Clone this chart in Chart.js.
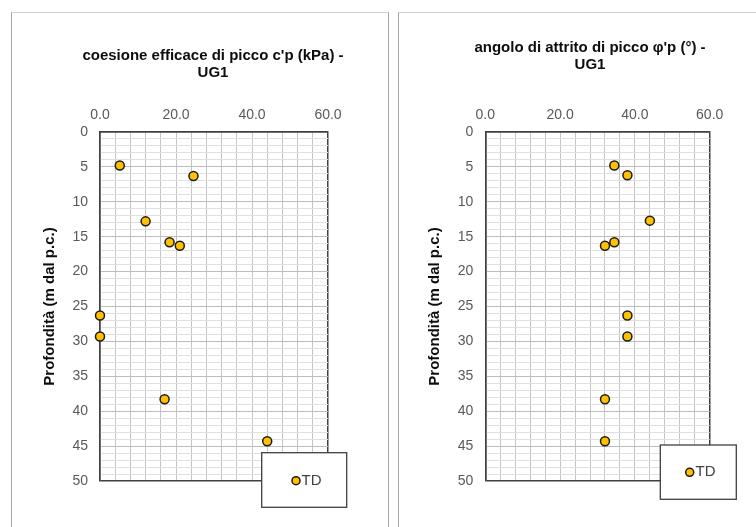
<!DOCTYPE html>
<html>
<head>
<meta charset="utf-8">
<script src="https://cdn.jsdelivr.net/npm/chart.js@4.4.1/dist/chart.umd.min.js"></script>
<style>
  html, body { margin: 0; padding: 0; background: #ffffff; overflow: hidden; width: 756px; height: 527px; }
  .panel { position: absolute; box-sizing: border-box; background: #ffffff; }
  #p1 { left: 11px; top: 12px; width: 378px; height: 520px; border-left: 1px solid #a6a6a6; border-top: 1px solid #d0d0d0; border-right: 1px solid #a6a6a6; }
  #p2 { left: 398px; top: 12px; width: 370px; height: 520px; border-left: 1px solid #a6a6a6; border-top: 1px solid #d0d0d0; }
  canvas { position: absolute; }
  #c1 { left: 12px; top: 12px; }
  #c2 { left: 399px; top: 12px; }
</style>
</head>
<body>
<div class="panel" id="p1"></div>
<div class="panel" id="p2"></div>
<canvas id="c1" width="376" height="515"></canvas>
<canvas id="c2" width="357" height="515"></canvas>
<script>
// ---- data ----
const seriesLabel = 'TD';
const depthCoesione = [4.8, 6.3, 12.8, 15.8, 16.3, 26.3, 29.3, 38.3, 44.3];
const coesione      = [5.2, 24.6, 12.0, 18.3, 21.0, 0.0, 0.0, 17.0, 44.0];
const depthAttrito  = [4.8, 6.2, 12.7, 15.8, 16.3, 26.3, 29.3, 38.3, 44.3];
const attrito       = [34.5, 38.0, 44.0, 34.5, 32.0, 38.0, 38.0, 32.0, 32.0];
const xTickLabels = ['0.0', '20.0', '40.0', '60.0'];
const yTickLabels = ['0', '5', '10', '15', '20', '25', '30', '35', '40', '45', '50'];
const titleCoesione = ["coesione efficace di picco c'p (kPa) -", 'UG1'];
const titleAttrito  = ["angolo di attrito di picco \u03c6'p (\u00b0) -", 'UG1'];
const yAxisTitle = 'Profondit\u00e0 (m dal p.c.)';

Chart.defaults.font.family = '"Liberation Sans", Arial, sans-serif';
Chart.defaults.devicePixelRatio = 1;

const DARK = '#404040';

const boxLegend = {
  id: 'boxLegend',
  afterDatasetsDraw(chart, args, opts) {
    const ctx = chart.ctx;
    const ds = chart.data.datasets[0];
    ctx.save();
    ctx.fillStyle = '#ffffff';
    ctx.fillRect(opts.x, opts.y, opts.w, opts.h);
    ctx.strokeStyle = DARK;
    ctx.lineWidth = 1.3;
    ctx.strokeRect(opts.x, opts.y, opts.w, opts.h);
    ctx.beginPath();
    ctx.arc(opts.mx, opts.my, 4, 0, Math.PI * 2);
    ctx.fillStyle = ds.backgroundColor;
    ctx.fill();
    ctx.lineWidth = 1.5;
    ctx.strokeStyle = ds.borderColor;
    ctx.stroke();
    ctx.fillStyle = '#404040';
    ctx.font = '15px "Liberation Sans", Arial, sans-serif';
    ctx.textBaseline = 'middle';
    ctx.textAlign = 'left';
    ctx.fillText(ds.label, opts.tx, opts.my);
    ctx.restore();
  }
};

function makeChart(id, xs, ys, title, cfg) {
  const pts = xs.map((v, i) => ({ x: v, y: ys[i] }));
  return new Chart(document.getElementById(id), {
    type: 'scatter',
    data: {
      datasets: [{
        label: seriesLabel,
        data: pts,
        backgroundColor: '#FFC000',
        borderColor: '#1a1a1a',
        borderWidth: 1.5,
        pointRadius: 4.5,
        pointHoverRadius: 4.5,
        clip: false
      }]
    },
    options: {
      responsive: false,
      animation: false,
      events: [],
      layout: { padding: { left: cfg.padLeft, right: 0, top: 0, bottom: 46 } },
      plugins: {
        legend: { display: false },
        tooltip: { enabled: false },
        title: {
          display: true,
          text: title,
          color: '#0d0d0d',
          font: { size: 15, weight: 'bold', lineHeight: '17px' },
          padding: { top: cfg.titleTop, bottom: cfg.titleBottom }
        },
        boxLegend: cfg.legend
      },
      scales: {
        x: {
          type: 'linear',
          position: 'top',
          min: 0, max: 60,
          ticks: {
            stepSize: 4, maxTicksLimit: 100, autoSkip: false, maxRotation: 0,
            padding: 8, color: '#595959', font: { size: 14 },
            callback: v => (v % 20 === 0 ? xTickLabels[v / 20] : '')
          },
          grid: {
            drawTicks: false,
            color: c => (c.tick.value === 0 || c.tick.value === 60 ? DARK : '#c4c4c4'),
            lineWidth: c => (c.tick.value === 0 || c.tick.value === 60 ? 1.5 : 1)
          },
          border: { display: true, color: DARK, width: 1.5 },
          afterFit: s => { s.height = 40.5; }
        },
        y: {
          type: 'linear',
          position: 'left',
          reverse: true,
          min: 0, max: 50,
          ticks: {
            stepSize: 1, maxTicksLimit: 100, autoSkip: false,
            padding: 12, color: '#595959', font: { size: 14 },
            callback: v => (v % 5 === 0 ? yTickLabels[v / 5] : '')
          },
          grid: {
            drawTicks: false,
            color: c => (c.tick.value === 0 || c.tick.value === 50 ? DARK : (c.tick.value % 5 === 0 ? '#bdbdbd' : '#e0e0e0')),
            lineWidth: c => (c.tick.value === 0 || c.tick.value === 50 ? 1.5 : 1)
          },
          border: { display: true, color: DARK, width: 1.5 },
          title: {
            display: true,
            text: yAxisTitle,
            color: '#0d0d0d',
            font: { size: 15, weight: 'bold', lineHeight: '18px' },
            padding: { top: cfg.yTitlePad, bottom: 0 }
          },
          afterFit: s => { s.width = cfg.yWidth; }
        },
        y2: {
          type: 'linear',
          position: 'right',
          display: true,
          min: 0, max: 1,
          grid: { display: false, drawTicks: false },
          ticks: { display: false },
          border: { display: false },
          afterFit: s => { s.width = cfg.rightWidth; }
        }
      }
    },
    plugins: [boxLegend]
  });
}

makeChart('c1', coesione, depthCoesione, titleCoesione, {
  padLeft: 26, yWidth: 62, rightWidth: 60, yTitlePad: 3,
  titleTop: 35.5, titleBottom: 10,
  legend: { x: 249.7, y: 440.7, w: 85, h: 54.6, mx: 284, my: 468.7, tx: 289.5 }
});

makeChart('c2', attrito, depthAttrito, titleAttrito, {
  padLeft: 25, yWidth: 61.3, rightWidth: 46.3, yTitlePad: 2,
  titleTop: 27.5, titleBottom: 18,
  legend: { x: 261.3, y: 433, w: 76, h: 54.3, mx: 290.7, my: 460.3, tx: 296.5 }
});
</script>
</body>
</html>
